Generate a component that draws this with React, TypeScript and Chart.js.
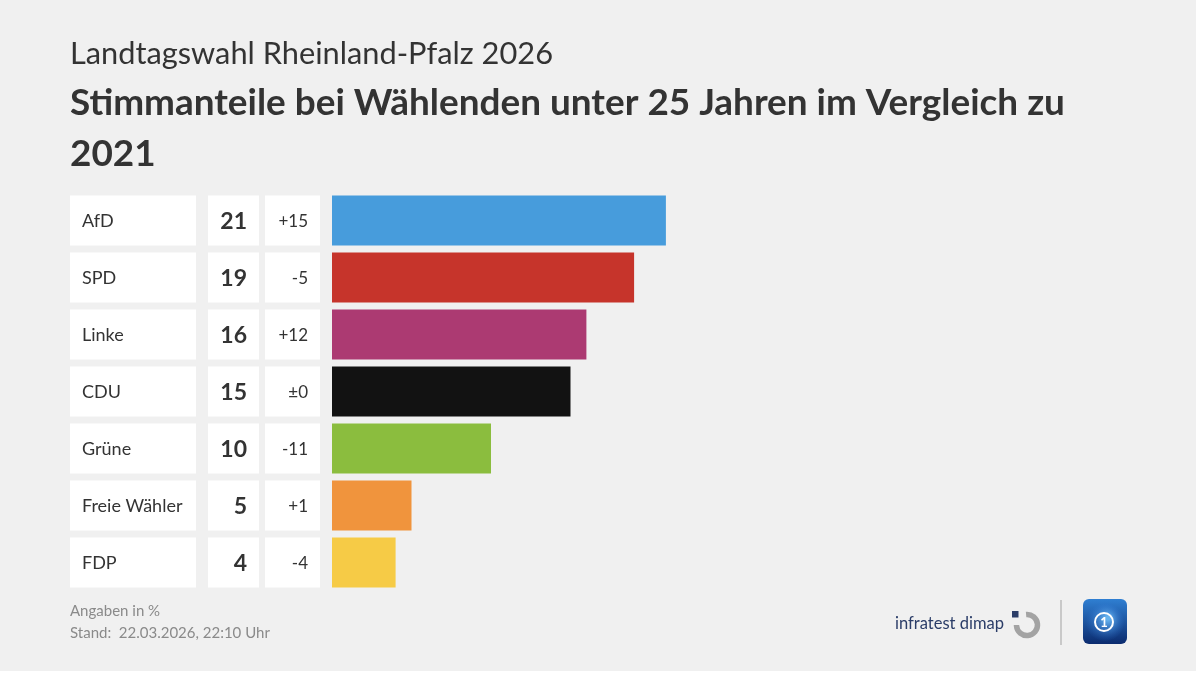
import React, { useEffect, useRef } from "react";
import { Chart, registerables } from "chart.js";

Chart.register(...registerables);

const categories = ["AfD", "SPD", "Linke", "CDU", "Grüne", "Freie Wähler", "FDP"];
const shares = [21, 19, 16, 15, 10, 5, 4];
const changes = ["+15", "-5", "+12", "±0", "-11", "+1", "-4"];
const barColors = ["#479cdc", "#c6342b", "#ac3a72", "#121212", "#8bbd3e", "#f0943d", "#f6cb46"];

const supertitle = "Landtagswahl Rheinland-Pfalz 2026";
const titleLines = ["Stimmanteile bei Wählenden unter 25 Jahren im Vergleich zu", "2021"];
const footerLines = ["Angaben in %", "Stand:  22.03.2026, 22:10 Uhr"];
const brandText = "infratest dimap";

const FONT = "Lato, 'Noto Sans', sans-serif";

function fitFont(ctx: CanvasRenderingContext2D, text: string, weight: string, base: number, target: number) {
  ctx.font = `${weight} ${base}px ${FONT}`;
  const w = ctx.measureText(text).width;
  const size = base * (target / w);
  return `${weight} ${size.toFixed(2)}px ${FONT}`;
}

const tablePlugin = {
  id: "tablePlugin",
  beforeDraw(chart: any) {
    const ctx: CanvasRenderingContext2D = chart.ctx;
    ctx.save();
    ctx.fillStyle = "#ffffff";
    ctx.fillRect(0, 0, chart.width, chart.height);
    ctx.fillStyle = "#f0f0f0";
    ctx.fillRect(0, 0, 1196, 671);

    // titles
    ctx.fillStyle = "#333333";
    ctx.textAlign = "left";
    ctx.textBaseline = "alphabetic";
    ctx.font = fitFont(ctx, supertitle, "400", 28, 483);
    ctx.fillText(supertitle, 70, 64);
    ctx.font = fitFont(ctx, titleLines[0], "700", 33, 995);
    ctx.fillText(titleLines[0], 70, 115);
    ctx.fillText(titleLines[1], 70, 166);

    // rows
    const meta = chart.getDatasetMeta(0);
    meta.data.forEach((bar: any, i: number) => {
      const h = bar.height;
      const top = bar.y - h / 2;
      ctx.fillStyle = "#ffffff";
      ctx.fillRect(70, top, 126, h);
      ctx.fillRect(208, top, 51, h);
      ctx.fillRect(265, top, 55, h);
      ctx.fillStyle = "#333333";
      ctx.textBaseline = "middle";
      ctx.textAlign = "left";
      ctx.font = `400 18px ${FONT}`;
      ctx.fillText(categories[i], 82, bar.y + 1);
      ctx.textAlign = "right";
      ctx.font = `700 23px ${FONT}`;
      ctx.fillText(String(shares[i]), 247, bar.y + 1);
      ctx.font = `400 17px ${FONT}`;
      ctx.fillText(changes[i], 308, bar.y + 1);
    });

    // footer
    ctx.textAlign = "left";
    ctx.textBaseline = "alphabetic";
    ctx.fillStyle = "#8a8a8a";
    ctx.font = `400 15px ${FONT}`;
    ctx.fillText(footerLines[0], 70, 616);
    ctx.fillText(footerLines[1], 70, 638);

    // infratest dimap brand
    ctx.fillStyle = "#2b3d68";
    ctx.font = fitFont(ctx, brandText, "400", 17, 109);
    ctx.fillText(brandText, 895, 629);
    ctx.strokeStyle = "#a3a3a3";
    ctx.lineWidth = 5.5;
    ctx.beginPath();
    ctx.arc(1027, 625, 10.5, (-95 * Math.PI) / 180, Math.PI, false);
    ctx.stroke();
    ctx.fillStyle = "#2b3d68";
    ctx.fillRect(1012, 611, 6.5, 6.5);

    // separator
    ctx.strokeStyle = "#c9c9c9";
    ctx.lineWidth = 2;
    ctx.beginPath();
    ctx.moveTo(1061, 600);
    ctx.lineTo(1061, 645);
    ctx.stroke();

    // tagesschau-like logo
    const lx = 1083, ly = 599, lw = 44, lh = 45;
    const g = ctx.createLinearGradient(0, ly, 0, ly + lh);
    g.addColorStop(0, "#2f7fd2");
    g.addColorStop(1, "#0b2b6e");
    ctx.fillStyle = g;
    ctx.beginPath();
    (ctx as any).roundRect(lx, ly, lw, lh, 6);
    ctx.fill();
    const rg = ctx.createRadialGradient(1108, 618, 2, 1105, 622, 20);
    rg.addColorStop(0, "rgba(120,200,255,0.8)");
    rg.addColorStop(1, "rgba(40,110,210,0)");
    ctx.fillStyle = rg;
    ctx.beginPath();
    ctx.arc(1105, 622, 19, 0, Math.PI * 2);
    ctx.fill();
    ctx.strokeStyle = "#ffffff";
    ctx.lineWidth = 2;
    ctx.beginPath();
    ctx.arc(1104, 622, 9, 0, Math.PI * 2);
    ctx.stroke();
    ctx.fillStyle = "#ffffff";
    ctx.font = `700 13px ${FONT}`;
    ctx.textAlign = "center";
    ctx.textBaseline = "middle";
    ctx.fillText("1", 1104, 623);
    ctx.restore();
  },
};

export default function App() {
  const ref = useRef<HTMLCanvasElement | null>(null);
  useEffect(() => {
    if (!ref.current) return;
    const chart = new Chart(ref.current, {
      type: "bar",
      data: {
        labels: categories,
        datasets: [
          {
            data: shares,
            backgroundColor: barColors,
            borderWidth: 0,
            barPercentage: 50 / 57,
            categoryPercentage: 1,
          },
        ],
      },
      options: {
        indexAxis: "y",
        animation: false,
        responsive: false,
        events: [],
        layout: { padding: { left: 332, right: 73, top: 192, bottom: 84 } },
        plugins: { legend: { display: false }, tooltip: { enabled: false }, title: { display: false } },
        scales: {
          x: { display: false, min: 0, max: 50 },
          y: { display: false, offset: true },
        },
      },
      plugins: [tablePlugin],
    } as any);
    return () => chart.destroy();
  }, []);
  return (
    <div style={{ position: "fixed", left: 0, top: 0, width: 1200, height: 675, background: "#ffffff" }}>
      <canvas ref={ref} width={1200} height={675} style={{ width: 1200, height: 675, display: "block" }} />
    </div>
  );
}
